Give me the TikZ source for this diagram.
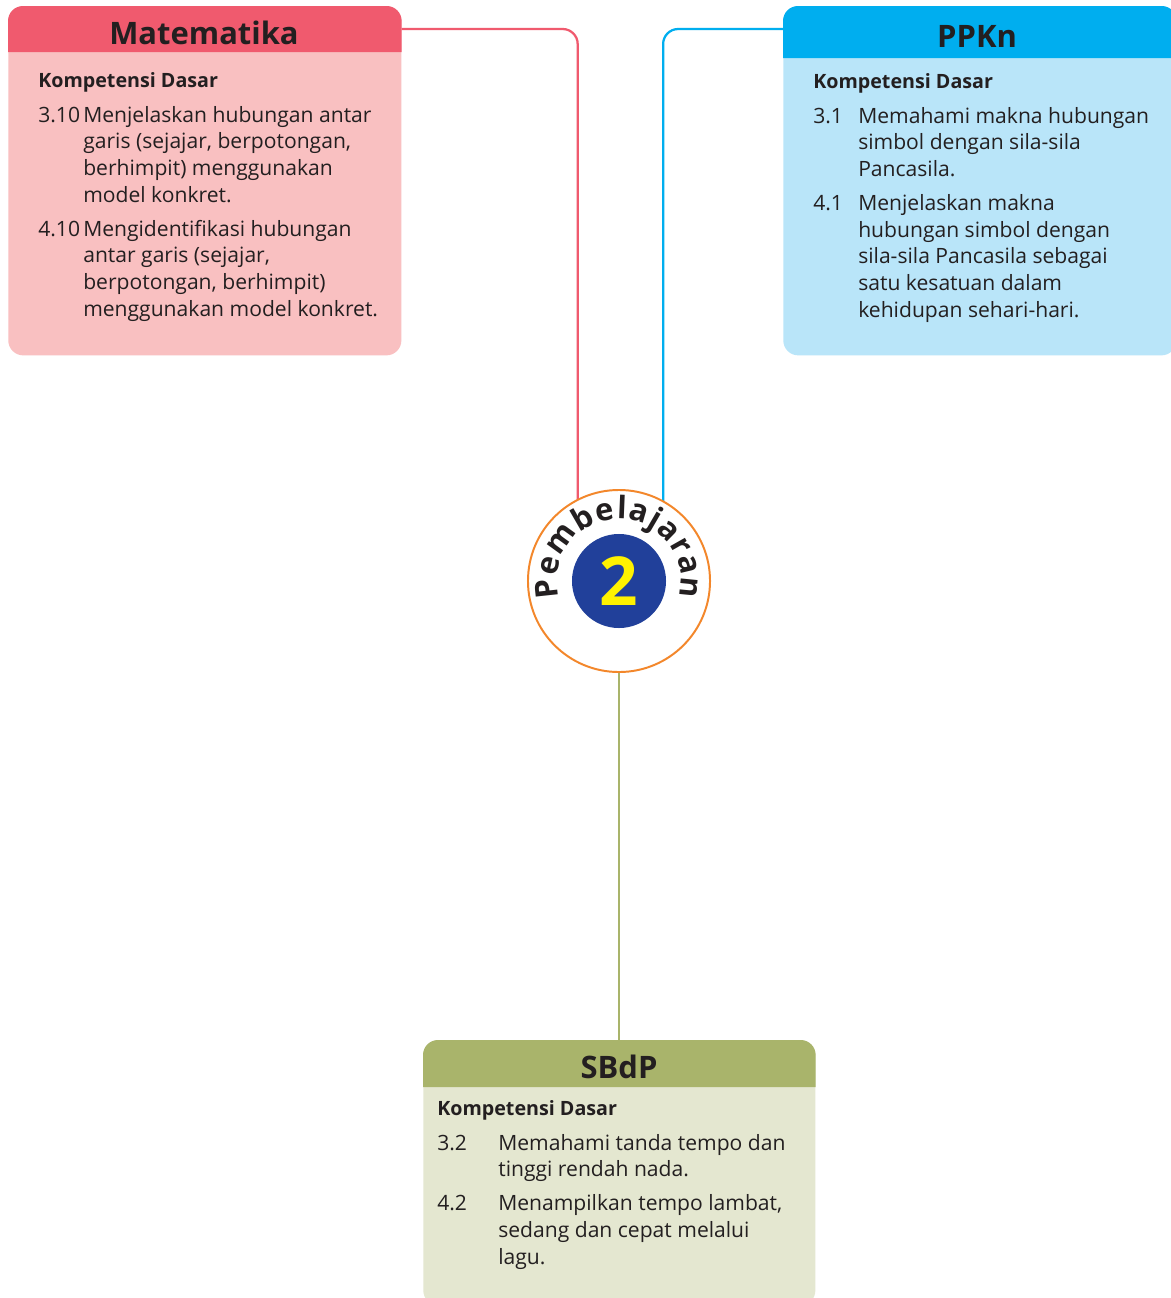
\documentclass[tikz,border=0pt]{standalone}
\usepackage{fontspec}
\setmainfont{Open Sans}
\usepackage{array}
\usetikzlibrary{decorations.text}

\definecolor{ink}{HTML}{231F20}
\definecolor{matdark}{HTML}{F05A6E}
\definecolor{matlight}{HTML}{F9C0C1}
\definecolor{ppkndark}{HTML}{00AEEF}
\definecolor{ppknlight}{HTML}{B9E5F9}
\definecolor{sbdpdark}{HTML}{A9B46B}
\definecolor{sbdplight}{HTML}{E4E7D0}
\definecolor{ring}{HTML}{F3872B}
\definecolor{numblue}{HTML}{21409A}
\definecolor{numyellow}{HTML}{FFF200}

\begin{document}
\begin{tikzpicture}[
  x=0.025cm, y=-0.025cm,
  panel/.style={rounded corners=0.375cm, fill=#1, inner sep=0pt, anchor=north west},
  title/.style={font=\fontsize{22}{26}\selectfont\bfseries, text=ink, inner sep=0pt, anchor=base},
  kd/.style={font=\fontsize{15}{19}\selectfont, text=ink, inner sep=0pt, anchor=base west},
  link/.style={line width=1.6pt, rounded corners=0.375cm, draw=#1},
]
\clip (0,0) rectangle (1171,1298);
\fill[white] (0,0) rectangle (1171,1298);

% ---------- Matematika ----------
\node[panel=matlight, minimum width=9.825cm, minimum height=8.725cm] (mat) at (8,6) {};
\fill[matdark] ([yshift=-1.15cm]mat.north west) {[rounded corners=0.375cm] -- (mat.north west) -- (mat.north east)}
  -- ([yshift=-1.15cm]mat.north east) -- cycle;
\node[title] (mattitle) at (204,44) {Matematika};
\node[kd] (matkd) at (38,87) {\begin{tabular}[t]{@{}p{32pt}@{}l@{}}
  \multicolumn{2}{@{}l@{}}{\fontsize{14}{19}\selectfont\bfseries Kompetensi Dasar}\\[6pt]
  3.10 & Menjelaskan hubungan antar\\
       & garis (sejajar, berpotongan,\\
       & berhimpit) menggunakan\\
       & model konkret.\\[5pt]
  4.10 & Mengidentifikasi hubungan\\
       & antar garis (sejajar,\\
       & berpotongan, berhimpit)\\
       & menggunakan model konkret.
\end{tabular}};

% ---------- PPKn ----------
\node[panel=ppknlight, minimum width=9.825cm, minimum height=8.725cm] (ppkn) at (783,6) {};
\fill[ppkndark] ([yshift=-1.3cm]ppkn.north west) {[rounded corners=0.375cm] -- (ppkn.north west) -- (ppkn.north east)}
  -- ([yshift=-1.3cm]ppkn.north east) -- cycle;
\node[title] (ppkntitle) at (977,47) {PPKn};
\node[kd] (ppknkd) at (813,88) {\begin{tabular}[t]{@{}p{32pt}@{}l@{}}
  \multicolumn{2}{@{}l@{}}{\fontsize{14}{19}\selectfont\bfseries Kompetensi Dasar}\\[6pt]
  3.1 & Memahami makna hubungan\\
      & simbol dengan sila-sila\\
      & Pancasila.\\[5pt]
  4.1 & Menjelaskan makna\\
      & hubungan simbol dengan\\
      & sila-sila Pancasila sebagai\\
      & satu kesatuan dalam\\
      & kehidupan sehari-hari.
\end{tabular}};

% ---------- SBdP ----------
\node[panel=sbdplight, minimum width=9.8cm, minimum height=6.625cm] (sbdp) at (423,1040) {};
\fill[sbdpdark] ([yshift=-1.175cm]sbdp.north west) {[rounded corners=0.375cm] -- (sbdp.north west) -- (sbdp.north east)}
  -- ([yshift=-1.175cm]sbdp.north east) -- cycle;
\node[title] (sbdptitle) at (619,1078) {SBdP};
\node[kd] (sbdpkd) at (437,1115) {\begin{tabular}[t]{@{}p{43.4pt}@{}l@{}}
  \multicolumn{2}{@{}l@{}}{\fontsize{14}{19}\selectfont\bfseries Kompetensi Dasar}\\[6pt]
  3.2 & Memahami tanda tempo dan\\
      & tinggi rendah nada.\\[5pt]
  4.2 & Menampilkan tempo lambat,\\
      & sedang dan cepat melalui\\
      & lagu.
\end{tabular}};

% ---------- Pembelajaran 2 ----------
\coordinate (hub) at (619,581);
\draw[link=matdark] ([yshift=-0.575cm]mat.north east) -| ([shift={(117:2.275cm)}]hub);
\draw[link=ppkndark] ([yshift=-0.575cm]ppkn.north west) -| ([shift={(61:2.275cm)}]hub);
\node[circle, draw=ring, line width=1.4pt, fill=white, minimum size=4.55cm, inner sep=0pt] (circ) at (hub) {};
\draw[link=sbdpdark] (circ.south) -- (circ.south |- sbdp.north);
\node[circle, fill=numblue, minimum size=2.35cm, inner sep=0pt, text=numyellow,
      font=\fontsize{48}{48}\selectfont\bfseries] (num) at (circ) {2};
\path[decorate, decoration={text along path, text align={fit to path}, text color=ink,
      text={|\fontsize{22}{22}\selectfont\bfseries|Pembelajaran}}]
  ([shift={(195:1.55cm)}]circ.center) arc[start angle=195, end angle=-15, radius=1.55cm];

\end{tikzpicture}
\end{document}
